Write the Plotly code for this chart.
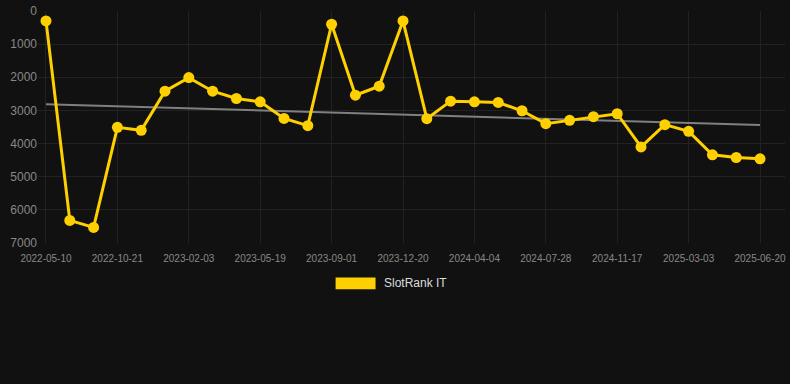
import plotly.graph_objects as go

dates = [
    "2022-05-10", "2022-07-05", "2022-08-29", "2022-10-21", "2022-11-25",
    "2022-12-30", "2023-02-03", "2023-03-10", "2023-04-14", "2023-05-19",
    "2023-06-23", "2023-07-28", "2023-09-01", "2023-10-06", "2023-11-14",
    "2023-12-20", "2024-01-24", "2024-02-28", "2024-04-04", "2024-05-12",
    "2024-06-19", "2024-07-28", "2024-09-03", "2024-10-10", "2024-11-17",
    "2024-12-22", "2025-01-26", "2025-03-03", "2025-04-07", "2025-05-14",
    "2025-06-20",
]
ranks = [
    300, 6320, 6530, 3510, 3600, 2420, 2010, 2420, 2640, 2740,
    3240, 3460, 400, 2540, 2270, 300, 3250, 2720, 2740, 2760,
    3010, 3400, 3300, 3190, 3100, 4100, 3430, 3630, 4340, 4420,
    4460,
]
trend_dates = [dates[0], dates[-1]]
trend_values = [2810, 3440]
tick_labels = dates[::3]
series_name = "SlotRank IT"

W, H = 790, 384
L, R, T, B = 38, 4, 7, 141
pw, ph = W - L - R, H - T - B
step = 715 / 30.0
x0 = -(46 - L) / step
x1 = x0 + pw / step

def px(x):
    return (x - L) / pw

def py(y):
    return (H - B - y) / ph

fig = go.Figure()
fig.add_trace(go.Scatter(
    x=trend_dates, y=trend_values, mode="lines",
    line=dict(color="#808080", width=2), showlegend=False, hoverinfo="skip",
))
fig.add_trace(go.Scatter(
    x=dates, y=ranks, mode="lines+markers", name=series_name,
    line=dict(color="#FFD000", width=3),
    marker=dict(color="#FFD000", size=11),
    showlegend=False,
))

fig.update_layout(
    width=W, height=H,
    margin=dict(l=L, r=R, t=T, b=B),
    paper_bgcolor="#111111", plot_bgcolor="#111111",
    font=dict(family="Liberation Sans, Arial, sans-serif", color="#888888"),
    xaxis=dict(
        type="category", categoryorder="array", categoryarray=dates,
        range=[x0, x1],
        tickmode="array", tickvals=tick_labels, ticktext=tick_labels,
        showgrid=True, gridcolor="#222222", gridwidth=1,
        zeroline=False, showline=False, ticks="",
        tickfont=dict(size=10, color="#888888"),
        tickangle=0, ticklabelstandoff=8,
    ),
    yaxis=dict(
        range=[7000, 0], tickmode="array",
        tickvals=[0, 1000, 2000, 3000, 4000, 5000, 6000, 7000],
        ticktext=["0", "1000", "2000", "3000", "4000", "5000", "6000", "7000"],
        showgrid=True, gridcolor="#222222", gridwidth=1,
        zeroline=False, showline=False, ticks="",
        tickfont=dict(size=12, color="#888888"),
    ),
    shapes=[dict(
        type="rect", xref="paper", yref="paper",
        x0=px(336), x1=px(376), y0=py(290), y1=py(278),
        fillcolor="#FFD000", line=dict(width=0),
    )],
    annotations=[dict(
        text=series_name, xref="paper", yref="paper",
        x=px(382), y=py(284), xanchor="left", yanchor="middle",
        showarrow=False, font=dict(size=12, color="#dddddd"),
    )],
)

fig.write_html(
    "out.html",
    config={"displayModeBar": False},
    post_script="document.body.style.margin='0';document.body.style.background='#111111';",
)
